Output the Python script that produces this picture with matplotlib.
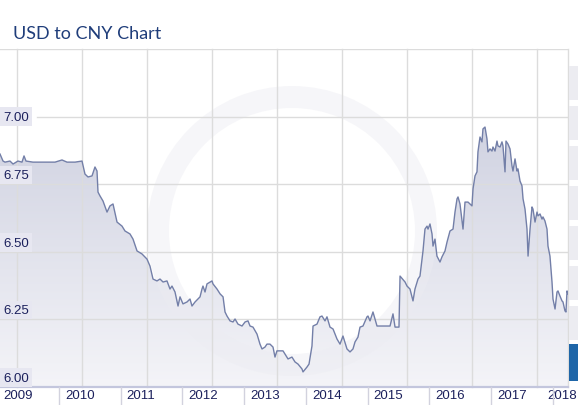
import matplotlib
matplotlib.use("Agg")
import matplotlib.pyplot as plt
import numpy as np
from matplotlib.colors import LinearSegmentedColormap
from matplotlib.patches import Polygon, Rectangle, Wedge
from matplotlib.transforms import IdentityTransform, blended_transform_factory

# USD/CNY (decimal years, rate)
dates_2009 = [2009.045, 2009.094, 2009.126, 2009.207, 2009.256, 2009.336, 2009.401, 2009.434, 2009.466,
              2009.579, 2009.693, 2009.855, 2009.936, 2010.049, 2010.130, 2010.260, 2010.373]
rates_2009 = [6.861, 6.835, 6.831, 6.835, 6.824, 6.835, 6.831, 6.854, 6.835,
              6.831, 6.831, 6.831, 6.831, 6.839, 6.831, 6.831, 6.835]
dates_2010 = [2010.421, 2010.470, 2010.535, 2010.583, 2010.616, 2010.632, 2010.664, 2010.713, 2010.778,
              2010.826, 2010.875, 2010.940]
rates_2010 = [6.787, 6.776, 6.780, 6.813, 6.798, 6.720, 6.706, 6.687, 6.646,
              6.669, 6.676, 6.609]
dates_2011 = [2011.021, 2011.069, 2011.150, 2011.199, 2011.264, 2011.344, 2011.425, 2011.474, 2011.523,
              2011.587, 2011.636, 2011.685, 2011.749, 2011.798, 2011.830, 2011.879, 2011.928, 2011.960]
rates_2011 = [6.594, 6.576, 6.565, 6.546, 6.502, 6.491, 6.472, 6.446, 6.398,
              6.391, 6.398, 6.387, 6.391, 6.361, 6.372, 6.350, 6.298, 6.332]
dates_2012 = [2012.008, 2012.073, 2012.122, 2012.154, 2012.203, 2012.284, 2012.316, 2012.332, 2012.365,
              2012.397, 2012.478, 2012.494, 2012.559, 2012.609, 2012.657, 2012.689, 2012.721, 2012.770,
              2012.818, 2012.851, 2012.899, 2012.964]
rates_2012 = [6.306, 6.313, 6.324, 6.298, 6.313, 6.332, 6.361, 6.372, 6.350,
              6.380, 6.391, 6.380, 6.361, 6.343, 6.332, 6.276, 6.261, 6.243,
              6.239, 6.250, 6.231, 6.224]
dates_2013 = [2013.013, 2013.061, 2013.094, 2013.142, 2013.207, 2013.255, 2013.288, 2013.336, 2013.368,
              2013.417, 2013.466, 2013.498, 2013.530, 2013.628, 2013.709, 2013.773, 2013.822, 2013.871,
              2013.935, 2013.952]
rates_2013 = [6.239, 6.243, 6.224, 6.220, 6.194, 6.157, 6.139, 6.146, 6.157,
              6.157, 6.146, 6.109, 6.132, 6.132, 6.102, 6.109, 6.091, 6.083,
              6.065, 6.054]
dates_2014 = [2014.016, 2014.049, 2014.097, 2014.114, 2014.178, 2014.227, 2014.259, 2014.308, 2014.340,
              2014.389, 2014.438, 2014.502, 2014.551, 2014.599, 2014.664, 2014.713, 2014.761, 2014.794,
              2014.842, 2014.875, 2014.923, 2014.988]
rates_2014 = [6.072, 6.083, 6.150, 6.224, 6.231, 6.258, 6.261, 6.243, 6.258,
              6.220, 6.213, 6.176, 6.157, 6.187, 6.139, 6.128, 6.139, 6.165,
              6.183, 6.220, 6.224, 6.258]
dates_2015 = [2015.004, 2015.037, 2015.085, 2015.150, 2015.280, 2015.361, 2015.409, 2015.442, 2015.506,
              2015.523, 2015.604, 2015.636, 2015.684, 2015.733, 2015.765, 2015.814, 2015.846, 2015.879,
              2015.895, 2015.927, 2015.960, 2015.976]
rates_2015 = [6.261, 6.243, 6.276, 6.224, 6.224, 6.224, 6.269, 6.220, 6.220,
              6.409, 6.387, 6.372, 6.361, 6.317, 6.361, 6.398, 6.409, 6.472,
              6.502, 6.583, 6.594, 6.583]
dates_2016 = [2016.008, 2016.041, 2016.057, 2016.089, 2016.121, 2016.170, 2016.202, 2016.251, 2016.284,
              2016.332, 2016.381, 2016.413, 2016.446, 2016.462, 2016.494, 2016.543, 2016.575, 2016.624,
              2016.656, 2016.688, 2016.705, 2016.737, 2016.769, 2016.785, 2016.818, 2016.850, 2016.866,
              2016.899, 2016.931, 2016.947, 2016.980]
rates_2016 = [6.602, 6.565, 6.520, 6.546, 6.483, 6.461, 6.480, 6.502, 6.535,
              6.576, 6.583, 6.646, 6.695, 6.702, 6.676, 6.583, 6.683, 6.683,
              6.676, 6.669, 6.732, 6.780, 6.795, 6.869, 6.924, 6.906, 6.954,
              6.961, 6.917, 6.869, 6.880]
dates_2017 = [2017.012, 2017.028, 2017.061, 2017.093, 2017.109, 2017.142, 2017.174, 2017.190, 2017.223,
              2017.239, 2017.271, 2017.304, 2017.336, 2017.352, 2017.385, 2017.417, 2017.433, 2017.466,
              2017.498, 2017.515, 2017.547, 2017.579, 2017.596, 2017.628, 2017.660, 2017.676, 2017.709,
              2017.741, 2017.757, 2017.790, 2017.822, 2017.838, 2017.870, 2017.903, 2017.919, 2017.951,
              2017.984]
rates_2017 = [6.872, 6.887, 6.872, 6.909, 6.891, 6.887, 6.906, 6.891, 6.795,
              6.909, 6.898, 6.880, 6.817, 6.798, 6.843, 6.798, 6.806, 6.761,
              6.743, 6.695, 6.657, 6.583, 6.483, 6.583, 6.665, 6.657, 6.609,
              6.646, 6.632, 6.639, 6.620, 6.628, 6.613, 6.583, 6.520, 6.483,
              6.387]
dates_2018 = [2018.000, 2018.033, 2018.065, 2018.081, 2018.113, 2018.146, 2018.162, 2018.194, 2018.210,
              2018.227, 2018.243]
rates_2018 = [6.324, 6.287, 6.350, 6.354, 6.335, 6.317, 6.313, 6.280, 6.276,
              6.354, 6.343]

years = list(range(2009, 2019))
y_ticks = [6.00, 6.25, 6.50, 6.75, 7.00]
title = "USD to CNY Chart"

dates = np.array(dates_2009 + dates_2010 + dates_2011 + dates_2012 + dates_2013
                 + dates_2014 + dates_2015 + dates_2016 + dates_2017 + dates_2018)
rates = np.array(rates_2009 + rates_2010 + rates_2011 + rates_2012 + rates_2013
                 + rates_2014 + rates_2015 + rates_2016 + rates_2017 + rates_2018)
assert len(dates) == len(rates)

W, H = 578, 406
PLOT_R, PLOT_T, PLOT_B = 568, 50, 387.5
YMIN, YMAX = 6.0, 7.25

fig = plt.figure(figsize=(W / 100, H / 100), dpi=100)
fig.patch.set_facecolor("white")
ax = fig.add_axes([0, (H - PLOT_B) / H, PLOT_R / W, (PLOT_B - PLOT_T) / H])
ax.set_axis_off()

# gradient area under the line
cmap = LinearSegmentedColormap.from_list("area", ["#f4f4f8", "#c6c9db"])
grad = np.linspace(0, 1, 256).reshape(-1, 1)
im = ax.imshow(grad, extent=[dates[0], dates[-1], YMIN, YMAX], origin="lower",
               aspect="auto", cmap=cmap, zorder=1)
verts = np.column_stack([np.r_[dates[0], dates, dates[-1]], np.r_[YMIN, rates, YMIN]])
area = Polygon(verts, closed=True, fc="none", ec="none")
ax.add_patch(area)
im.set_clip_path(area)

ax.set_xlim(2009.045, 2018.243)
ax.set_ylim(YMIN, YMAX)

# faint watermark ring
ring = Wedge((292, H - 232), 145, 0, 360, width=22, transform=IdentityTransform(),
             fc="#ececf2", ec="none", alpha=0.45, zorder=2)
ax.add_patch(ring)

# grid
grid_c = "#dcdcdc"
for v in [6.25, 6.50, 6.75, 7.25]:
    ax.axhline(v, color=grid_c, lw=1, zorder=3)
ax.axhline(7.00, xmin=37 / PLOT_R, color=grid_c, lw=1, zorder=3)
for px in list(range(17, PLOT_R, 65)) + [PLOT_R - 0.5]:
    ax.plot([px / PLOT_R] * 2, [0, 1], transform=ax.transAxes, color=grid_c, lw=1,
            zorder=3, clip_on=False)

ax.plot(dates, rates, color="#737fa8", lw=1.0, zorder=4)

# x axis
ax.axhline(YMIN, color="#c3c6dd", lw=1.6, zorder=5, clip_on=False)
xtrans = blended_transform_factory(ax.transData, ax.transAxes)
tick_len = 19 / (PLOT_B - PLOT_T)
lab_font = dict(family="Liberation Sans", fontsize=9.5, color="#1b205c")
for yr in years:
    ax.plot([yr, yr], [0, -tick_len], transform=xtrans, color="#d2d2de", lw=1,
            clip_on=False, zorder=5)
    if yr == years[-1]:
        off, ha = 24, "right"
    else:
        off, ha = 6, "left"
    ax.annotate(str(yr), xy=(yr, 0), xycoords=xtrans, xytext=(off, -8.5),
                textcoords="offset pixels", ha=ha, va="center", **lab_font)

# y labels on boxes, sitting just above their grid line
ytrans = blended_transform_factory(ax.transAxes, ax.transData)
for v in y_ticks:
    dy = 0 if v == 7.00 else 9
    ax.annotate(f"{v:.2f}", xy=(3 / PLOT_R, v), xycoords=ytrans, xytext=(0, dy),
                textcoords="offset pixels", ha="left", va="center", zorder=6,
                bbox=dict(boxstyle="square,pad=0.25", fc="#e7e7f1", ec="none"), **lab_font)

fig.text(13 / W, (H - 39) / H, title, family="Lato", fontsize=13, color="#1f3d7a",
         va="baseline")

# side strip
for i in range(7):
    top = 67 + 40 * i
    fig.add_artist(Rectangle((569, H - top - 34), 9, 34, transform=IdentityTransform(),
                             fc="#ececf1", ec="none"))
fig.add_artist(Rectangle((569, H - 382), 9, 37, transform=IdentityTransform(),
                         fc="#1f66a8", ec="none"))

fig.savefig("out.png", dpi=100)
